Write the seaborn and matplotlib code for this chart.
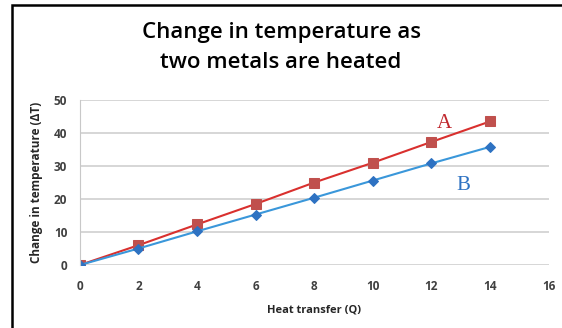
import matplotlib
matplotlib.use("Agg")
import matplotlib.pyplot as plt
import seaborn as sns
import pandas as pd
from matplotlib.patches import Rectangle

# Data
heat = [0, 2, 4, 6, 8, 10, 12, 14]
temp_a = [0, 6.0, 12.3, 18.5, 25.0, 31.0, 37.3, 43.5]
temp_b = [0, 5.0, 10.2, 15.3, 20.4, 25.6, 30.8, 35.8]
x_ticks = [0, 2, 4, 6, 8, 10, 12, 14, 16]
y_ticks = [0, 10, 20, 30, 40, 50]

sns.set_style("white")
plt.rcParams['font.family'] = ['Open Sans', 'DejaVu Sans']

df = pd.DataFrame({'Q': heat, 'A': temp_a, 'B': temp_b})

fig = plt.figure(figsize=(5.62, 3.28), dpi=100)
ax = fig.add_axes([0.142, 0.192, 0.834, 0.503])

# outer chart frame (open at bottom/right, like the cropped original)
fig.patches.append(Rectangle((0.021, -0.05), 1.2, 1.035, transform=fig.transFigure,
                             fill=False, edgecolor='black', linewidth=1.8))

sns.lineplot(data=df, x='Q', y='A', ax=ax, color='#D9302E', linewidth=1.5,
             marker='s', markersize=7.5, markerfacecolor='#C0504D',
             markeredgecolor='#C0504D')
sns.lineplot(data=df, x='Q', y='B', ax=ax, color='#3A97DA', linewidth=1.5,
             marker='D', markersize=5, markerfacecolor='#2E72C2',
             markeredgecolor='#2E72C2')

ax.set_xlim(0, 16)
ax.set_ylim(0, 50)
ax.set_xticks(x_ticks)
ax.set_yticks(y_ticks)
ax.yaxis.grid(True, color='#D0D0D0', linewidth=1.2)
ax.set_axisbelow(True)
for s in ['top', 'right', 'bottom']:
    ax.spines[s].set_visible(False)
ax.spines['left'].set_color('#C8C8C8')
ax.tick_params(length=0, labelsize=8.5, labelcolor='#404040')
ax.tick_params(axis='x', pad=11)
ax.tick_params(axis='y', pad=9)
for lab in ax.get_xticklabels() + ax.get_yticklabels():
    lab.set_fontweight('bold')

ax.set_xlabel('Heat transfer (Q)', fontsize=8, fontweight='bold', labelpad=8)
ax.set_ylabel('Change in temperature (ΔT)', fontsize=8.5, fontweight='bold', labelpad=8)

fig.text(0.5, 0.855, 'Change in temperature as\ntwo metals are heated',
         ha='center', va='center', fontsize=16, fontweight='semibold',
         linespacing=1.55, color='black')

ax.text(12.2, 41.5, 'A', color='#C0272D', fontsize=15,
        family=['Liberation Serif', 'DejaVu Serif'])
ax.text(12.85, 22.8, 'B', color='#2E72C2', fontsize=15,
        family=['Liberation Serif', 'DejaVu Serif'])

fig.savefig('out.png', dpi=100)
